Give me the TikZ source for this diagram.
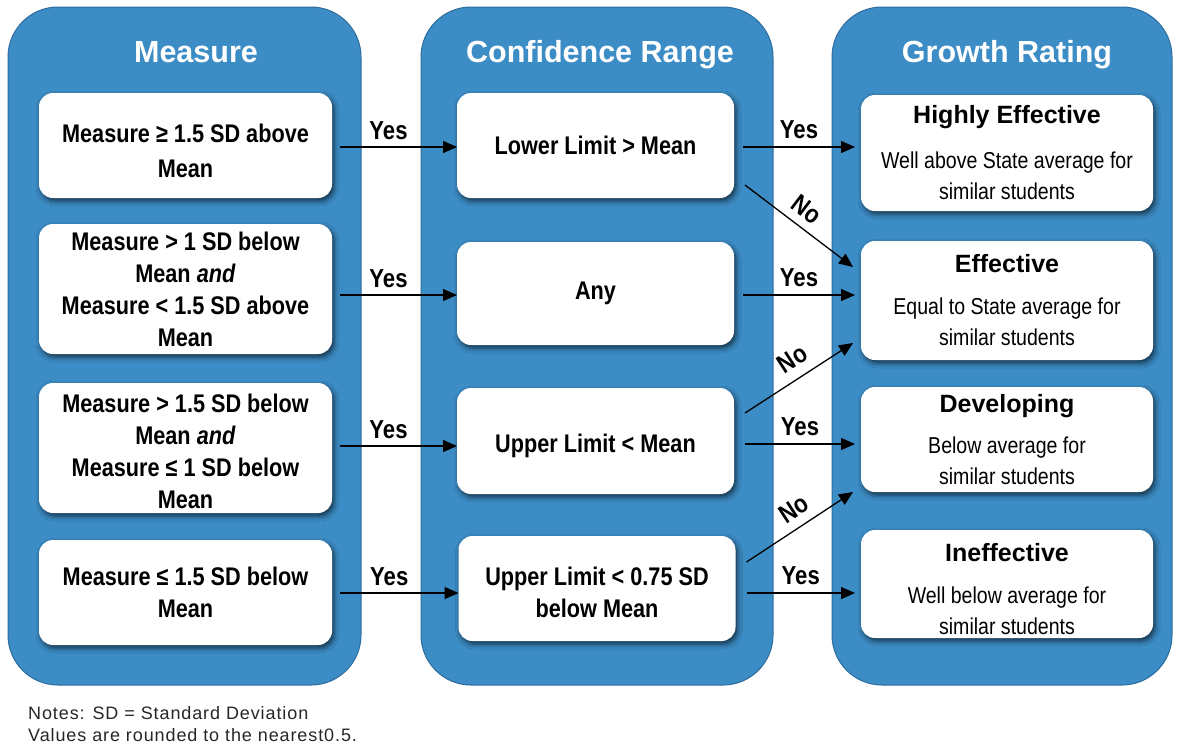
\documentclass[tikz,border=0pt]{standalone}
\usepackage{fontspec}
\setmainfont{Liberation Sans}
\newfontfamily\narrowsans[FakeStretch=0.85]{Liberation Sans}
\newfontfamily\notesans[LetterSpace=5]{Liberation Sans}
\usetikzlibrary{arrows.meta,calc,shadows.blur}

\definecolor{laneblue}{RGB}{60,140,197}
\definecolor{laneedge}{RGB}{44,108,158}
\definecolor{subgray}{RGB}{38,38,38}

\newcommand{\lanefont}{\bfseries\fontsize{30.5}{36}\selectfont}
\newcommand{\condfont}{\narrowsans\bfseries\fontsize{25.5}{32}\selectfont}
\newcommand{\ratefont}{\normalfont\bfseries\fontsize{25}{30}\selectfont}
\newcommand{\descfont}{\narrowsans\mdseries\fontsize{23}{31}\selectfont\color{subgray}}
\newcommand{\arrowfont}{\narrowsans\bfseries\fontsize{26}{30}\selectfont}

\begin{document}
\begin{tikzpicture}[x=1pt,y=-1pt,
  lane/.style={draw=laneedge, line width=1pt, fill=laneblue, rounded corners=50pt,
    inner sep=0pt, outer sep=0pt},
  lanetitle/.style={text=white, font=\lanefont, anchor=base, inner sep=0pt},
  card/.style={fill=white, rounded corners=14pt, inner sep=0pt, outer sep=0pt,
    align=center, text=black,
    blur shadow={shadow xshift=2pt, shadow yshift=-3pt, shadow blur radius=5pt, shadow opacity=65}},
  condcard/.style={card, font=\condfont},
  ratecard/.style={card, font=\descfont},
  flow/.style={-{Triangle[length=14pt,width=12pt]}, line width=1.3pt, black},
  yeslbl/.style={font=\arrowfont, inner sep=0pt, text=black},
  notes/.style={font=\notesans\fontsize{18}{22}\selectfont, anchor=base west, inner sep=0pt, text=black!85}
]
\useasboundingbox (0,0) rectangle (1177,748);

% three lanes
\node[lane, minimum width=353pt, minimum height=678pt] (lane1) at (184.5,346) {};
\node[lane, minimum width=352pt, minimum height=678pt] (lane2) at (597,346) {};
\node[lane, minimum width=340pt, minimum height=678pt] (lane3) at (1002,346) {};

\node[lanetitle] (t1) at (196,62) {Measure};
\node[lanetitle] (t2) at (600,62) {Confidence Range};
\node[lanetitle] (t3) at (1007,62) {Growth Rating};

% measure cards (text height/depth fix where the last baseline sits)
\node[condcard, minimum width=293pt, minimum height=105pt, text height=63pt, text depth=0pt] (m1) at (185.5,145.5)
  {Measure ≥ 1.5 SD above\\[3pt]Mean};
\node[condcard, minimum width=293pt, minimum height=130pt] (m2) at (185.5,289)
  {Measure > 1 SD below\\Mean \textit{and}\\Measure < 1.5 SD above\\Mean};
\node[condcard, minimum width=293pt, minimum height=130pt, text height=120pt, text depth=0pt] (m3) at (185.5,448)
  {Measure > 1.5 SD below\\Mean \textit{and}\\Measure ≤ 1 SD below\\Mean};
\node[condcard, minimum width=293pt, minimum height=105pt] (m4) at (185.5,592.5)
  {Measure ≤ 1.5 SD below\\Mean};

% confidence range cards
\node[condcard, minimum width=277pt, minimum height=105pt] (c1) at (595.5,145.5) {Lower Limit > Mean};
\node[condcard, minimum width=277pt, minimum height=103pt] (c2) at (595.5,293.5) {Any};
\node[condcard, minimum width=277pt, minimum height=106pt, text height=22pt, text depth=0pt] (c3) at (595.5,441) {Upper Limit < Mean};
\node[condcard, minimum width=277pt, minimum height=105pt, text height=57pt, text depth=0pt] (c4) at (597,588.5) {Upper Limit < 0.75 SD\\below Mean};

% growth rating cards: heading line, then two description lines
\node[ratecard, minimum width=292pt, minimum height=116pt] (g1) at (1007,153)
  {\ratefont Highly Effective\\[14pt]Well above State average for\\similar students};
\node[ratecard, minimum width=292pt, minimum height=119pt] (g2) at (1007,300.5)
  {\ratefont Effective\\[11pt]Equal to State average for\\similar students};
\node[ratecard, minimum width=292pt, minimum height=105pt] (g3) at (1007,439.5)
  {\ratefont Developing\\[10pt]Below average for\\similar students};
\node[ratecard, minimum width=292pt, minimum height=108pt, text height=100pt, text depth=0pt] (g4) at (1007,584)
  {\ratefont Ineffective\\[11pt]Well below average for\\similar students};

% measure -> confidence range
\draw[flow] ($(m1.east |- c1.west)+(8,1.5)$) -- node[yeslbl, above=7pt, xshift=-10pt] {Yes} ($(c1.west)+(0,1.5)$);
\draw[flow] ($(m2.east |- c2.west)+(8,1.5)$) -- node[yeslbl, above=7pt, xshift=-10pt] {Yes} ($(c2.west)+(0,1.5)$);
\draw[flow] ($(m3.east |- c3.west)+(8,5)$) -- node[yeslbl, above=7pt, xshift=-10pt] {Yes} ($(c3.west)+(0,5)$);
\draw[flow] ($(m4.east |- c4.west)+(8,4.5)$) -- node[yeslbl, above=7pt, xshift=-10pt] {Yes} ($(c4.west)+(0,4.5)$);

% confidence range -> growth rating
\draw[flow] ($(c1.east)+(9,1.5)$) -- node[yeslbl, above=8pt] {Yes} ($(c1.east -| g1.west)+(-6,1.5)$);
\draw[flow] ($(c1.east)+(11,39.5)$) -- node[yeslbl, sloped, above=8pt, xshift=-4pt] {No} ($(g2.west)+(-8,-33.5)$);
\draw[flow] ($(c2.east)+(9,1.5)$) -- node[yeslbl, above=8pt] {Yes} ($(c2.east -| g2.west)+(-6,1.5)$);
\draw[flow] ($(c3.east)+(11,-28)$) -- node[yeslbl, sloped, above=10pt, xshift=5pt] {No} ($(g2.west)+(-8,42.5)$);
\draw[flow] ($(c3.east)+(11,3)$) -- node[yeslbl, above=8pt] {Yes} ($(c3.east -| g3.west)+(-6,3)$);
\draw[flow] ($(c4.east)+(11,-26.5)$) -- node[yeslbl, sloped, above=9pt, xshift=5pt] {No} ($(g3.west)+(-8,52.5)$);
\draw[flow] ($(c4.east)+(11,4.5)$) -- node[yeslbl, above=8pt] {Yes} ($(c4.east -| g4.west)+(-6,4.5)$);

% footnote
\node[notes] (n1) at (28,719) {Notes: SD = Standard Deviation};
\node[notes] (n2) at (28,741) {Values are rounded to the nearest0.5.};
\end{tikzpicture}
\end{document}
